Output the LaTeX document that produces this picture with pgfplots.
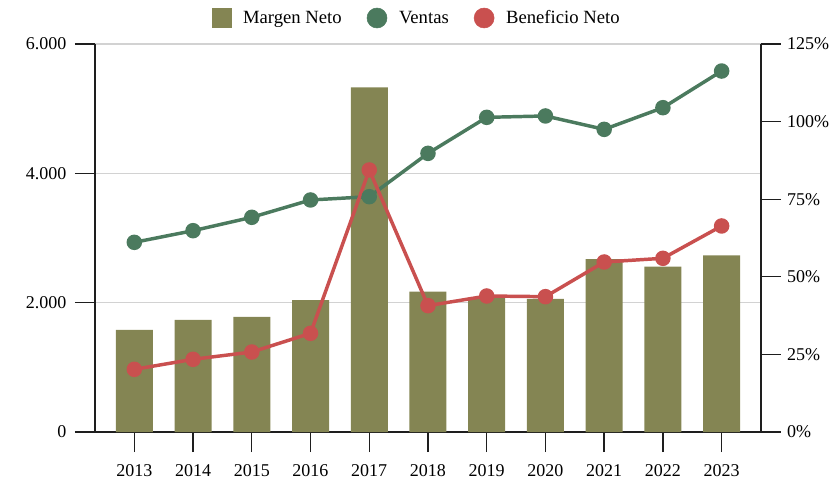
\documentclass[border=0pt]{standalone}
\usepackage{fontspec}
\setmainfont{Liberation Serif}
\usepackage{pgfplots}
\pgfplotsset{compat=1.18}

\definecolor{margen}{HTML}{848553}
\definecolor{ventas}{HTML}{4B7A5E}
\definecolor{benef}{HTML}{C9504F}
\definecolor{gridc}{HTML}{D2D2D2}
\definecolor{axc}{HTML}{1E1E1E}

\pgfplotsset{
  base/.style={
    width=499.5pt, height=291pt, scale only axis,
    xmin=2012.33, xmax=2023.67,
    font=\fontsize{13.5}{15}\selectfont,
    tick align=outside, major tick length=15pt,
    axis line style={axc, line width=1pt, -},
    tick style={axc, line width=1pt},
    /pgf/number format/assume math mode=true,
  }
}

\begin{document}
\begin{tikzpicture}
  % left axis, grid and years
  \begin{axis}[base,
    axis x line*=bottom, axis y line*=left,
    ymin=0, ymax=6000, ytick={0,2000,4000,6000},
    ymajorgrids, grid style={gridc, line width=0.8pt},
    xtick={2013,...,2023},
    yticklabel style={xshift=-3pt, /pgf/number format/.cd, 1000 sep={.}},
    xticklabel style={yshift=-6pt, /pgf/number format/.cd, 1000 sep={}},
  ]
  \end{axis}

  % Margen Neto, right axis
  \begin{axis}[base,
    axis x line=none, axis y line*=right,
    ymin=0, ymax=125, ytick={0,25,...,125},
    yticklabel={\pgfmathprintnumber{\tick}\%},
    yticklabel style={xshift=1pt},
  ]
    \addplot[ybar, bar width=0.63, fill=margen, draw=none] coordinates {
      (2013,32.9) (2014,36.1) (2015,37.1) (2016,42.5) (2017,111.0)
      (2018,45.2) (2019,43.2) (2020,42.9) (2021,55.7) (2022,53.3) (2023,56.9)
    };
  \end{axis}

  % Ventas and Beneficio Neto, left scale
  \begin{axis}[base,
    hide axis, clip=false,
    ymin=0, ymax=6000,
    legend columns=3,
    legend style={draw=none, fill=none, at={(0.484,1.067)}, anchor=center,
      font=\fontsize{14}{16}\selectfont,
      /tikz/every odd column/.append style={column sep=7pt},
      /tikz/every even column/.append style={column sep=17pt}},
    legend cell align=left,
  ]
    \addlegendimage{only marks, mark=square*, mark size=7pt, color=margen}
    \addlegendentry{Margen Neto}
    \addlegendimage{only marks, mark=*, mark size=7.5pt, color=ventas}
    \addlegendentry{Ventas}
    \addlegendimage{only marks, mark=*, mark size=7.5pt, color=benef}
    \addlegendentry{Beneficio Neto}

    \addplot[forget plot, ventas, line width=2.6pt, mark=*, mark size=4.5pt] coordinates {
      (2013,2933) (2014,3113) (2015,3320) (2016,3588) (2017,3639)
      (2018,4309) (2019,4866) (2020,4887) (2021,4680) (2022,5015) (2023,5582)
    };
    \addplot[forget plot, benef, line width=2.6pt, mark=*, mark size=4.5pt] coordinates {
      (2013,969) (2014,1124) (2015,1237) (2016,1526) (2017,4052)
      (2018,1954) (2019,2103) (2020,2093) (2021,2629) (2022,2686) (2023,3186)
    };
    \path (rel axis cs:-0.1426,-0.134) rectangle (rel axis cs:1.1096,1.1134);
  \end{axis}
\end{tikzpicture}
\end{document}
